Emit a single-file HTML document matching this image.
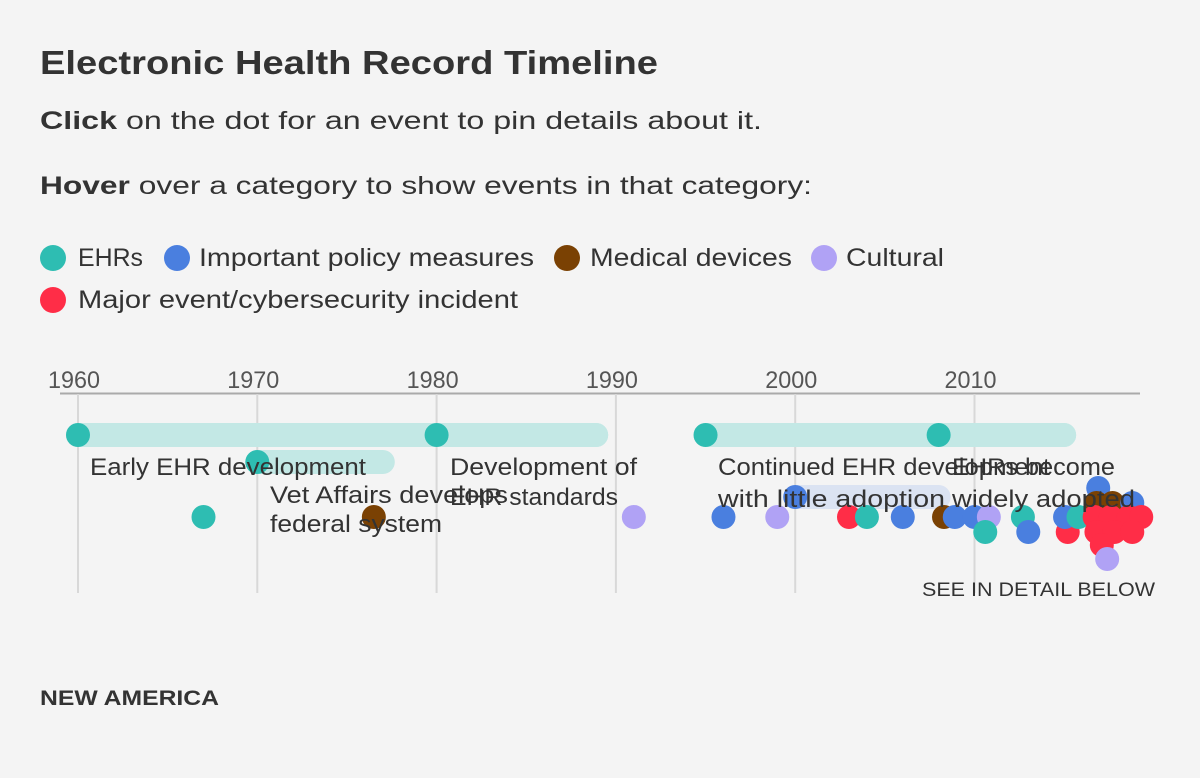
<!DOCTYPE html>
<html><head><meta charset="utf-8"><style>
html,body{margin:0;padding:0;background:#f4f4f4;}
svg{display:block;font-family:"Liberation Sans",sans-serif;}
</style></head><body>
<svg id="chart" width="1200" height="778" viewBox="0 0 1200 778">
<rect width="1200" height="778" fill="#f4f4f4"/>
<text x="40" y="74" font-size="33" font-weight="bold" fill="#333" textLength="618" lengthAdjust="spacingAndGlyphs">Electronic Health Record Timeline</text>
<text x="40" y="129" font-size="25" fill="#333" textLength="722" lengthAdjust="spacingAndGlyphs"><tspan font-weight="bold">Click</tspan> on the dot for an event to pin details about it.</text>
<text x="40" y="194" font-size="25" fill="#333" textLength="772" lengthAdjust="spacingAndGlyphs"><tspan font-weight="bold">Hover</tspan> over a category to show events in that category:</text>
<g id="legend"></g>
<g id="axis"></g>
<g id="ranges"></g>
<g id="dots"></g>
<g id="labels"></g>
<text x="922" y="596" font-size="19" fill="#333" textLength="233" lengthAdjust="spacingAndGlyphs">SEE IN DETAIL BELOW</text>
<text x="40" y="705" font-size="21" font-weight="bold" fill="#333" textLength="179" lengthAdjust="spacingAndGlyphs">NEW AMERICA</text>
</svg>
<script>
const NS='http://www.w3.org/2000/svg';
const colors={ehr:'#2ebdb2',policy:'#4a7fdf',device:'#7a4103',cultural:'#b0a2f5',major:'#ff2d47'};
const legendNames=['EHRs','Important policy measures','Medical devices','Cultural','Major event/cybersecurity incident'];
const legendCats=['ehr','policy','device','cultural','major'];
const tickYears=[1960,1970,1980,1990,2000,2010];
const rangeStart=[1960,1980,1970,1995,2008,2000];
const rangeEnd=[1988.9,1988.9,1977.0,2015.0,2015.0,2008.0];
const rangeRow=[0,0,1,0,0,2];
const rangeCat=['ehr','ehr','ehr','ehr','ehr','policy'];
const eventYears=[1960,1980,1970,1995,2008,1967,1976.5,1991,1996,1999,2000,2003,2004,2006,2008.3,2008.9,2010,2010.8,2010.6,2012.7,2013.0,2015.2,2015.05,2015.8,2016.9,2016.8,2017.7,2018.8,2016.7,2017.6,2018.6,2019.3,2016.8,2017.8,2018.8,2017.1,2017.4];
const eventRow=[0,0,1,0,0,3,3,3,3,3,2,3,3,3,3,3,3,3,4,3,4,4,3,3,8,7,7,7,3,3,3,3,4,4,4,5,6];
const eventCat=['ehr','ehr','ehr','ehr','ehr','ehr','device','cultural','policy','cultural','policy','major','ehr','policy','device','policy','policy','cultural','ehr','ehr','policy','major','policy','ehr','policy','device','device','policy','major','major','major','major','major','major','major','major','cultural'];
const rowY=[435,462,497,517,532,545,559,503,488];
const x=y=>78+(y-1960)*17.93;
function el(tag,attrs,parent){const e=document.createElementNS(NS,tag);for(const k in attrs)e.setAttribute(k,attrs[k]);parent.appendChild(e);return e;}
const lg=document.getElementById('legend');
const legPos=[[53,258,78,65],[177,258,199,335],[567,258,590,202],[824,258,846,98],[53,300,78,440]];
legendNames.forEach((n,i)=>{
 const g=el('g',{},lg);
 
 
 const p=legPos[i];
 el('circle',{cx:p[0],cy:p[1],r:13,fill:colors[legendCats[i]]},g);
 const t=el('text',{x:p[2],y:p[1]+8,'font-size':25,fill:'#333',textLength:p[3],lengthAdjust:'spacingAndGlyphs'},g);
 t.textContent=n;
});
const ax=document.getElementById('axis');
el('line',{x1:60,x2:1140,y1:393.5,y2:393.5,stroke:'#aaa','stroke-width':2},ax);
tickYears.forEach(t=>{
 const l=el('line',{x1:x(t),x2:x(t),y1:394,y2:593,stroke:'#d8d8d8','stroke-width':2},ax);
 
 
 const tx=el('text',{x:x(t)-4,y:388,'font-size':24,fill:'#555','text-anchor':'middle',textLength:52,lengthAdjust:'spacingAndGlyphs'},ax);
 
 
 tx.textContent=t;
});
const rg=document.getElementById('ranges');
rangeStart.forEach((s,i)=>{
 const y=rowY[rangeRow[i]];
 const r=el('line',{x1:x(s),x2:x(rangeEnd[i]),y1:y,y2:y,stroke:rangeCat[i]==='ehr'?'#c3e8e5':'#dbe3f2','stroke-width':24,'stroke-linecap':'round'},rg);
 
 
});
const dg=document.getElementById('dots');
eventYears.forEach((yr,i)=>{
 const c=el('circle',{cx:x(yr),cy:rowY[eventRow[i]],r:12,fill:colors[eventCat[i]]},dg);
 
 
});
const lb=document.getElementById('labels');
const labelText=['Early EHR development','Vet Affairs develops','federal system','Development of','EHR standards','Continued EHR development','with little adoption','EHRs become','widely adopted'];
const labelPos=[[90,475,276],[270,503,238],[270,532,172],[450,475,187],[450,505,168],[718,475,332],[718,507,227],[952,475,163],[952,507,183]];
labelText.forEach((s,i)=>{
 const p=labelPos[i];
 const t=el('text',{x:p[0],y:p[1],'font-size':24,fill:'#333',textLength:p[2],lengthAdjust:'spacingAndGlyphs'},lb);
 
 
 t.textContent=s;
});
</script>
</body></html>
